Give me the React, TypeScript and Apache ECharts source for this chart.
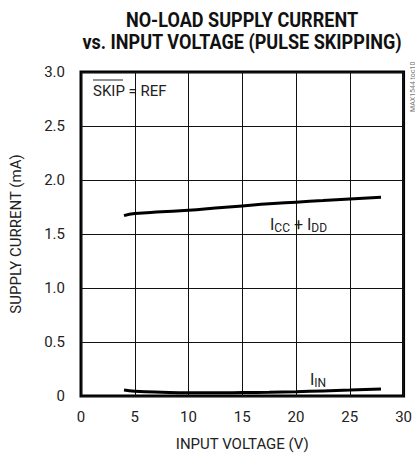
import React, { useEffect, useRef } from "react";
import * as echarts from "echarts";

const voltageIcc = [4, 5, 7.5, 10, 12.5, 15, 17.5, 20, 22.5, 25, 27.9];
const currentIcc = [1.67, 1.69, 1.705, 1.72, 1.74, 1.76, 1.78, 1.795, 1.81, 1.825, 1.84];
const voltageIin = [4, 5, 7.5, 10, 12.5, 15, 17.5, 20, 22.5, 25, 27.9];
const currentIin = [0.055, 0.045, 0.035, 0.03, 0.03, 0.032, 0.035, 0.04, 0.047, 0.055, 0.065];
const xTicks = [0, 5, 10, 15, 20, 25, 30];
const yTicks = ["0", "0.5", "1.0", "1.5", "2.0", "2.5", "3.0"];

const FONT = "Roboto, 'Liberation Sans', sans-serif";

export default function App() {
  const ref = useRef<HTMLDivElement>(null);
  useEffect(() => {
    document.body.style.margin = "0";
    if (!ref.current) return;
    const chart = echarts.init(ref.current, undefined, { renderer: "svg" });
    const pair = (xs: number[], ys: number[]) => xs.map((x, i) => [x, ys[i]]);
    const titleStyle = {
      fontFamily: FONT,
      fontWeight: "bold",
      fontSize: 21,
      fill: "#111",
      align: "center",
      verticalAlign: "middle",
    };
    chart.setOption({
      animation: false,
      backgroundColor: "#fff",
      grid: {
        left: 80,
        right: 9,
        top: 72,
        bottom: 59,
        show: true,
        borderColor: "#000",
        borderWidth: 3,
        backgroundColor: "transparent",
      },
      xAxis: {
        type: "value",
        min: 0,
        max: 30,
        interval: 5,
        name: "INPUT VOLTAGE (V)",
        nameLocation: "middle",
        nameGap: 40,
        nameTextStyle: { fontFamily: FONT, fontSize: 15, color: "#222" },
        axisLine: { show: false },
        axisTick: { show: false },
        axisLabel: {
          fontFamily: FONT,
          fontSize: 15,
          color: "#222",
          margin: 13,
          formatter: (v: number) => (xTicks.includes(v) ? String(v) : ""),
        },
        splitLine: { show: true, lineStyle: { color: "#111", width: 1 } },
      },
      yAxis: {
        type: "value",
        min: 0,
        max: 3,
        interval: 0.5,
        name: "SUPPLY CURRENT (mA)",
        nameLocation: "middle",
        nameGap: 58,
        nameTextStyle: { fontFamily: FONT, fontSize: 15, color: "#222" },
        axisLine: { show: false },
        axisTick: { show: false },
        axisLabel: {
          fontFamily: FONT,
          fontSize: 15,
          color: "#222",
          margin: 16,
          formatter: (v: number) => yTicks[Math.round(v * 2)] ?? "",
        },
        splitLine: { show: true, lineStyle: { color: "#111", width: 1 } },
      },
      series: [
        {
          type: "line",
          data: pair(voltageIcc, currentIcc),
          showSymbol: false,
          smooth: true,
          lineStyle: { color: "#000", width: 3 },
        },
        {
          type: "line",
          data: pair(voltageIin, currentIin),
          showSymbol: false,
          smooth: true,
          lineStyle: { color: "#000", width: 3 },
        },
      ],
      graphic: [
        {
          type: "text",
          x: 242,
          y: 20,
          scaleX: 0.86,
          style: { ...titleStyle, text: "NO-LOAD SUPPLY CURRENT" },
        },
        {
          type: "text",
          x: 242,
          y: 42,
          scaleX: 0.86,
          style: { ...titleStyle, text: "vs. INPUT VOLTAGE (PULSE SKIPPING)" },
        },
        {
          type: "text",
          x: 93,
          y: 83,
          style: {
            text: "SKIP = REF",
            fontFamily: FONT,
            fontSize: 15,
            fill: "#222",
          },
        },
        {
          type: "line",
          shape: { x1: 93, y1: 80, x2: 123, y2: 80 },
          style: { stroke: "#222", lineWidth: 1 },
        },
        {
          type: "text",
          x: 270,
          y: 215,
          style: {
            text: "{m|I}{s|CC}{m| + I}{s|DD}",
            fill: "#222",
            rich: {
              m: { fontFamily: FONT, fontSize: 16, fill: "#222" },
              s: { fontFamily: FONT, fontSize: 12, fill: "#222", padding: [7, 0, 0, 0] },
            },
          },
        },
        {
          type: "text",
          x: 310,
          y: 370,
          style: {
            text: "{m|I}{s|IN}",
            fill: "#222",
            rich: {
              m: { fontFamily: FONT, fontSize: 16, fill: "#222" },
              s: { fontFamily: FONT, fontSize: 12, fill: "#222", padding: [7, 0, 0, 0] },
            },
          },
        },
        {
          type: "text",
          x: 409,
          y: 112,
          rotation: Math.PI / 2,
          style: {
            text: "MAX1544 toc10",
            fontFamily: FONT,
            fontSize: 7,
            fill: "#777",
          },
        },
      ],
    });
    return () => chart.dispose();
  }, []);
  return <div ref={ref} style={{ width: 415, height: 456 }} />;
}
